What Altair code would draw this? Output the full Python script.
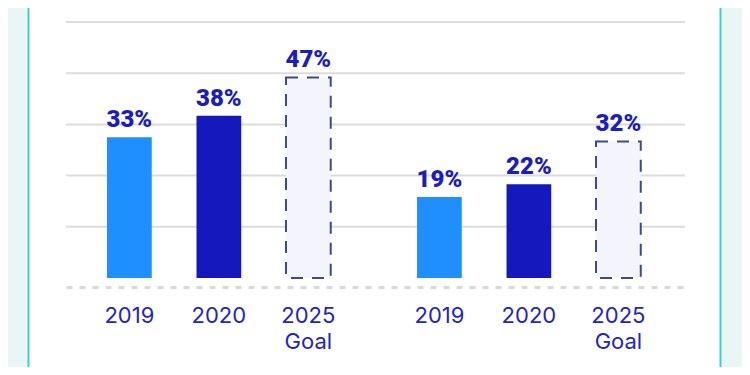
import altair as alt
import pandas as pd

groups = ["First", "Second"]
years = ["2019", "2020", "2025 Goal"]
year_labels = ["2019", "2020", "2025\nGoal"]
first_values = [33, 38, 47]
second_values = [19, 22, 32]
grid_values = [12, 24, 36, 48, 60]

rows = []
for g, vals in zip(groups, [first_values, second_values]):
    for yr, lab, v in zip(years, year_labels, vals):
        rows.append({"group": g, "year": yr, "label": lab, "value": v, "pct": f"{v}%"})
df = pd.DataFrame(rows)

yscale = alt.Scale(domain=[0, 60], nice=False, zero=True)

xenc = alt.X(
    "group:N",
    sort=groups,
    scale=alt.Scale(domain=groups, paddingInner=0.134, paddingOuter=0.0653, align=0.46),
    axis=alt.Axis(
        labels=False, ticks=False, title=None, grid=False,
        domainDash=[6, 7], domainColor="#D9D9D9", domainWidth=3,
        offset=9, zindex=1,
    ),
)
xoff = alt.XOffset(
    "year:N", sort=years,
    scale=alt.Scale(domain=years, paddingInner=0.5, paddingOuter=0.25),
)

base = alt.Chart(df).encode(x=xenc, xOffset=xoff)

frame = alt.Chart(pd.DataFrame({"a": [0]})).mark_rect(
    fill="white", stroke="#40CFCF", strokeWidth=2
).encode(
    x=alt.value(-37.5), x2=alt.value(654.5), y=alt.value(-40), y2=alt.value(420)
)

grid = alt.Chart(pd.DataFrame({"g": grid_values})).mark_rule(
    color="#DCDCDC", strokeWidth=2
).encode(y=alt.Y("g:Q", scale=yscale, axis=None))

actual = base.transform_filter("datum.year != '2025 Goal'").mark_bar().encode(
    y=alt.Y("value:Q", scale=yscale, axis=None),
    color=alt.Color(
        "year:N",
        scale=alt.Scale(domain=["2019", "2020"], range=["#1F8FFF", "#1519BD"]),
        legend=None,
    ),
)

goal = base.transform_filter("datum.year == '2025 Goal'").mark_bar(
    fill="#F4F5FC", stroke="#3B4B8E", strokeWidth=2, strokeDash=[12, 9]
).encode(y=alt.Y("value:Q", scale=yscale, axis=None))

pct = base.mark_text(
    font="Roboto", fontSize=24, fontWeight=900, color="#1A1EC0",
    baseline="alphabetic", dy=-10,
).encode(y=alt.Y("value:Q", scale=yscale, axis=None), text="pct:N")

year_txt = base.mark_text(
    font="Inter", fontSize=22, color="#2424C4", baseline="alphabetic",
    dy=45, lineBreak="\n", lineHeight=26,
).encode(y=alt.datum(0), text="label:N")

chart = alt.layer(frame, grid, actual, goal, pct, year_txt).properties(
    width=619,
    height=256,
    autosize=alt.AutoSizeParams(type="none"),
    padding={"left": 58, "top": 14, "right": 57, "bottom": 89},
    background="#E8F6F6",
).configure_view(stroke=None)

chart.save("out.html", embed_options={"renderer": "svg", "actions": False})
